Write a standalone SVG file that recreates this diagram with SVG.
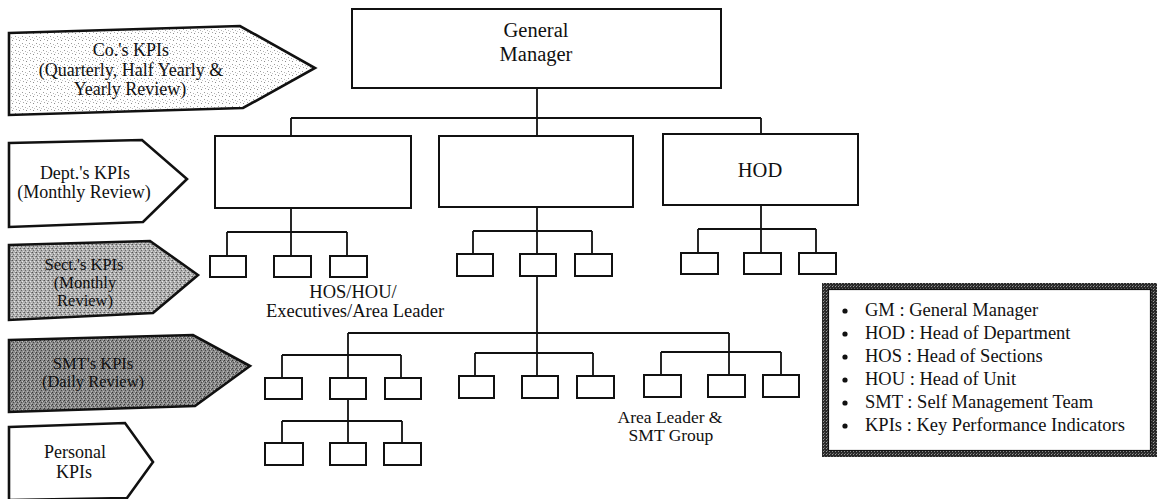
<svg xmlns="http://www.w3.org/2000/svg" width="1160" height="499" viewBox="0 0 1160 499">
  <defs>
    <!-- stipple fills for the KPI level banners -->
    <pattern id="dotsLight" width="7" height="7" patternUnits="userSpaceOnUse">
      <rect width="7" height="7" fill="#ffffff"/>
      <rect x="1" y="1" width="1" height="1" fill="#9a9a9a"/>
      <rect x="4" y="2" width="1" height="1" fill="#b5b5b5"/>
      <rect x="2" y="4" width="1" height="1" fill="#a8a8a8"/>
      <rect x="5" y="5" width="1" height="1" fill="#8c8c8c"/>
      <rect x="6" y="3" width="1" height="1" fill="#c8c8c8"/>
    </pattern>
    <pattern id="dotsMid" width="4" height="4" patternUnits="userSpaceOnUse">
      <rect width="4" height="4" fill="#b0b0b0"/>
      <rect x="0" y="0" width="1" height="1" fill="#555555"/>
      <rect x="2" y="1" width="1" height="1" fill="#e6e6e6"/>
      <rect x="1" y="2" width="1" height="1" fill="#6a6a6a"/>
      <rect x="3" y="3" width="1" height="1" fill="#dcdcdc"/>
      <rect x="3" y="0" width="1" height="1" fill="#858585"/>
    </pattern>
    <pattern id="dotsDark" width="4" height="4" patternUnits="userSpaceOnUse">
      <rect width="4" height="4" fill="#8a8a8a"/>
      <rect x="0" y="0" width="1" height="1" fill="#383838"/>
      <rect x="2" y="1" width="1" height="1" fill="#c4c4c4"/>
      <rect x="1" y="2" width="1" height="1" fill="#464646"/>
      <rect x="3" y="3" width="1" height="1" fill="#b8b8b8"/>
      <rect x="3" y="1" width="1" height="1" fill="#585858"/>
    </pattern>
    <pattern id="frameDots" width="3" height="3" patternUnits="userSpaceOnUse">
      <rect width="3" height="3" fill="#2a2a2a"/>
      <rect x="1" y="1" width="1" height="1" fill="#9a9a9a"/>
      <rect x="2" y="0" width="1" height="1" fill="#6a6a6a"/>
    </pattern>
    <style>
      .txt { font-family: "Liberation Serif", "Times New Roman", serif; fill: #111; text-anchor: middle; }
      .lvl { font-size: 18px; }
      .lvl-tight { font-size: 16.5px; }
      .box-label { font-size: 20.5px; }
      .note { font-size: 18.5px; }
      .note-tight { font-size: 17.5px; }
      .leg { font-family: "Liberation Serif", "Times New Roman", serif; font-size: 18.5px; fill: #111; }
      .banner { stroke: #111; stroke-width: 2.6; stroke-linejoin: miter; }
      .node { fill: #ffffff; stroke: #111; stroke-width: 2; }
      .wire { fill: none; stroke: #111; stroke-width: 1.8; }
    </style>
  </defs>

  <rect width="1160" height="499" fill="#ffffff"/>

  <!-- KPI level banners -->
  <g id="banner-company">
    <polygon class="banner" fill="url(#dotsLight)" points="9,33 240,26 315,68 243,108 9,115"/>
    <text class="txt lvl" x="131" y="56">Co.'s KPIs</text>
    <text class="txt lvl" x="131" y="76">(Quarterly, Half Yearly &amp;</text>
    <text class="txt lvl" x="130" y="95">Yearly Review)</text>
  </g>
  <g id="banner-dept">
    <polygon class="banner" fill="#ffffff" points="9,143 142,140 187,179 143,222 9,227"/>
    <text class="txt lvl" x="85" y="179">Dept.'s KPIs</text>
    <text class="txt lvl" x="84" y="198">(Monthly Review)</text>
  </g>
  <g id="banner-section">
    <polygon class="banner" fill="url(#dotsMid)" points="9,245 150,241 198,275 153,313 9,320"/>
    <text class="txt lvl-tight" x="84" y="270">Sect.'s KPIs</text>
    <text class="txt lvl-tight" x="85" y="288">(Monthly</text>
    <text class="txt lvl-tight" x="85" y="306">Review)</text>
  </g>
  <g id="banner-smt">
    <polygon class="banner" fill="url(#dotsDark)" points="9,340 193,335 250,366 195,406 9,412"/>
    <text class="txt lvl-tight" x="93" y="369">SMT's KPIs</text>
    <text class="txt lvl-tight" x="93" y="387">(Daily Review)</text>
  </g>
  <g id="banner-personal">
    <polygon class="banner" fill="#ffffff" points="9,427 125,423 153,462 127,498 9,500"/>
    <text class="txt lvl" x="75" y="458">Personal</text>
    <text class="txt lvl" x="74" y="478">KPIs</text>
  </g>

  <!-- reporting lines -->
  <g id="connectors" class="wire">
    <path d="M537,88 V118 M291,118 H761 M291,118 V136 M537,118 V136 M761,118 V134"/>
    <path d="M291,208 V232 M227,232 H347 M227,232 V256 M291,232 V256 M347,232 V256"/>
    <path d="M537,207 V231 M473,231 H592 M473,231 V254 M537,231 V254 M592,231 V254"/>
    <path d="M761,205 V229 M698,229 H816 M698,229 V253 M761,229 V253 M816,229 V253"/>
    <path d="M537,276 V376 M348,333 H729 M348,333 V378 M729,333 V375"/>
    <path d="M282,355 H401 M282,355 V378 M401,355 V378"/>
    <path d="M475,353 H593 M475,353 V376 M593,353 V376"/>
    <path d="M661,352 H781 M661,352 V375 M781,352 V375"/>
    <path d="M348,399 V421 M282,421 H402 M282,421 V443 M348,421 V443 M402,421 V443"/>
  </g>

  <!-- top level -->
  <g id="node-gm">
    <rect class="node" x="352" y="9" width="369" height="79"/>
    <text class="txt box-label" x="536" y="37">General</text>
    <text class="txt box-label" x="536" y="61">Manager</text>
  </g>

  <!-- departments -->
  <g id="node-dept-1"><rect class="node" x="215" y="136" width="196" height="72"/></g>
  <g id="node-dept-2"><rect class="node" x="439" y="136" width="194" height="71"/></g>
  <g id="node-hod">
    <rect class="node" x="663" y="134" width="195" height="71"/>
    <text class="txt box-label" x="760" y="177">HOD</text>
  </g>

  <!-- sections / units -->
  <g id="node-sec-1a"><rect class="node" x="210" y="256" width="36" height="21"/></g>
  <g id="node-sec-1b"><rect class="node" x="274" y="256" width="37" height="21"/></g>
  <g id="node-sec-1c"><rect class="node" x="330" y="256" width="37" height="21"/></g>
  <g id="node-sec-2a"><rect class="node" x="457" y="254" width="36" height="22"/></g>
  <g id="node-sec-2b"><rect class="node" x="520" y="254" width="36" height="22"/></g>
  <g id="node-sec-2c"><rect class="node" x="575" y="254" width="37" height="22"/></g>
  <g id="node-sec-3a"><rect class="node" x="681" y="253" width="37" height="21"/></g>
  <g id="node-sec-3b"><rect class="node" x="744" y="253" width="37" height="21"/></g>
  <g id="node-sec-3c"><rect class="node" x="799" y="253" width="37" height="21"/></g>

  <g id="label-hos">
    <text class="txt note" x="353" y="298">HOS/HOU/</text>
    <text class="txt note" x="355" y="317">Executives/Area Leader</text>
  </g>

  <!-- area leaders -->
  <g id="node-al-1a"><rect class="node" x="265" y="378" width="37" height="21"/></g>
  <g id="node-al-1b"><rect class="node" x="330" y="378" width="36" height="21"/></g>
  <g id="node-al-1c"><rect class="node" x="385" y="378" width="36" height="21"/></g>
  <g id="node-al-2a"><rect class="node" x="459" y="376" width="35" height="22"/></g>
  <g id="node-al-2b"><rect class="node" x="522" y="376" width="36" height="22"/></g>
  <g id="node-al-2c"><rect class="node" x="577" y="376" width="37" height="22"/></g>
  <g id="node-al-3a"><rect class="node" x="644" y="375" width="37" height="22"/></g>
  <g id="node-al-3b"><rect class="node" x="708" y="375" width="37" height="22"/></g>
  <g id="node-al-3c"><rect class="node" x="763" y="375" width="36" height="22"/></g>

  <!-- SMT members -->
  <g id="node-smt-a"><rect class="node" x="265" y="443" width="38" height="22"/></g>
  <g id="node-smt-b"><rect class="node" x="330" y="443" width="36" height="22"/></g>
  <g id="node-smt-c"><rect class="node" x="384" y="443" width="37" height="22"/></g>

  <g id="label-area">
    <text class="txt note-tight" x="670" y="423">Area Leader &amp;</text>
    <text class="txt note-tight" x="671" y="441">SMT Group</text>
  </g>

  <!-- abbreviations -->
  <g id="legend">
    <rect x="825" y="286" width="329" height="168" fill="#ffffff" stroke="url(#frameDots)" stroke-width="6"/>
    <rect x="828.5" y="289.5" width="322" height="161" fill="none" stroke="#111" stroke-width="1.2"/>
    <g fill="#111">
      <circle cx="845" cy="311" r="2.6"/>
      <circle cx="845" cy="334" r="2.6"/>
      <circle cx="845" cy="357" r="2.6"/>
      <circle cx="845" cy="380" r="2.6"/>
      <circle cx="845" cy="403" r="2.6"/>
      <circle cx="845" cy="426" r="2.6"/>
    </g>
    <text class="leg" x="865" y="316">GM : General Manager</text>
    <text class="leg" x="865" y="339">HOD : Head of Department</text>
    <text class="leg" x="865" y="362">HOS : Head of Sections</text>
    <text class="leg" x="865" y="385">HOU : Head of Unit</text>
    <text class="leg" x="865" y="408">SMT : Self Management Team</text>
    <text class="leg" x="865" y="431">KPIs : Key Performance Indicators</text>
  </g>
</svg>
